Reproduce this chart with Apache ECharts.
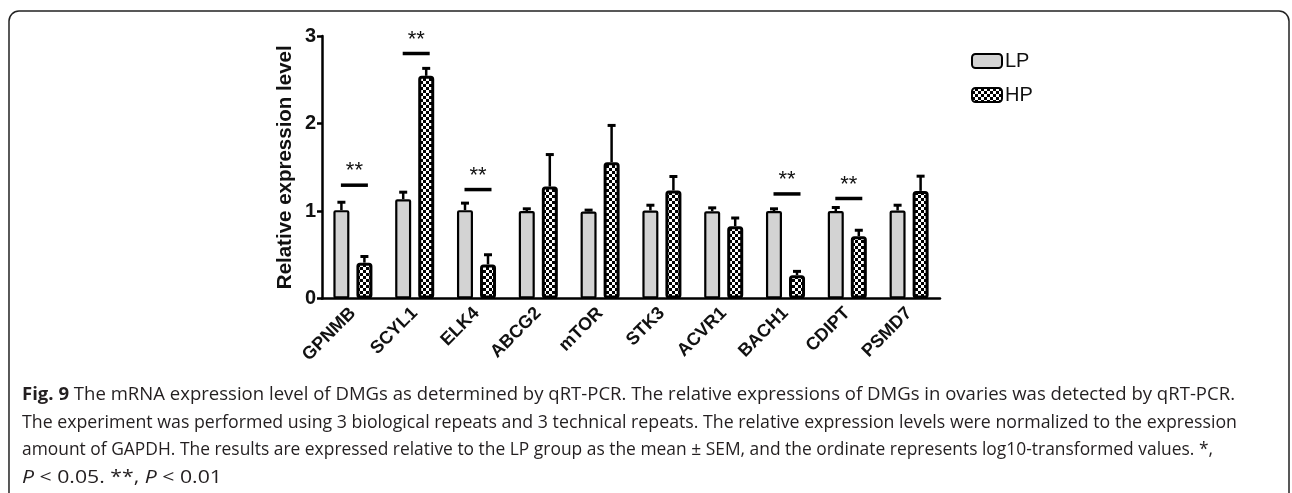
<!DOCTYPE html>
<html>
<head>
<meta charset="utf-8">
<script src="https://cdn.jsdelivr.net/npm/echarts@6/dist/echarts.min.js"></script>
<style>
html,body{margin:0;padding:0;background:#fff;}
#chart{width:1292px;height:493px;}
</style>
</head>
<body>
<div id="chart"></div>
<script>
// ---- data ----
const categories = ['GPNMB','SCYL1','ELK4','ABCG2','mTOR','STK3','ACVR1','BACH1','CDIPT','PSMD7'];
const lpMean = [1.01, 1.135, 1.01, 1.00, 0.995, 1.006, 0.998, 1.00, 1.00, 1.006];
const lpSem  = [0.09, 0.08, 0.08, 0.025, 0.015, 0.06, 0.038, 0.025, 0.04, 0.06];
const hpMean = [0.41, 2.545, 0.39, 1.28, 1.558, 1.234, 0.827, 0.267, 0.712, 1.23];
const hpSem  = [0.07, 0.085, 0.11, 0.365, 0.42, 0.16, 0.093, 0.043, 0.068, 0.168];
const sigCats = ['GPNMB','SCYL1','ELK4','BACH1','CDIPT'];
const sigY = [1.295, 2.80, 1.245, 1.195, 1.143];
const sigText = ['**','**','**','**','**'];
const yTicks = [0, 1, 2, 3];
const seriesNames = ['LP','HP'];
const captionLines = [
  [{b:'Fig. 9'}, {n:' The mRNA expression level of DMGs as determined by qRT-PCR. The relative expressions of DMGs in ovaries was detected by qRT-PCR.'}],
  [{n:'The experiment was performed using 3 biological repeats and 3 technical repeats. The relative expression levels were normalized to the expression'}],
  [{n:'amount of GAPDH. The results are expressed relative to the LP group as the mean \u00b1 SEM, and the ordinate represents log10-transformed values. *,'}],
  [{i:'P'}, {n:' < 0.05. **, '}, {i:'P'}, {n:' < 0.01'}]
];

// ---- pattern ----
const pat = document.createElement('canvas');
pat.width = 6; pat.height = 6;
const pc = pat.getContext('2d');
pc.fillStyle = '#000'; pc.fillRect(0,0,6,6);
pc.fillStyle = '#fff'; pc.fillRect(0,0,3,3); pc.fillRect(3,3,3,3);

const FONT = "'Liberation Sans', Arial, sans-serif";
const BAR_W = 16;
const OFFSET = 11.5;

function errRender(offset) {
  return function (params, api) {
    const c = api.coord([api.value(0), 0]);
    const x = c[0] + offset;
    const yTop = api.coord([api.value(0), api.value(1)])[1];
    const yErr = api.coord([api.value(0), api.value(2)])[1];
    return {
      type: 'group',
      children: [
        {type:'line', shape:{x1:x, y1:yTop, x2:x, y2:yErr}, style:{stroke:'#000', lineWidth:2.5}},
        {type:'line', shape:{x1:x-4, y1:yErr, x2:x+4, y2:yErr}, style:{stroke:'#000', lineWidth:3}}
      ]
    };
  };
}

const lpErrData = categories.map((c,i)=>[i, lpMean[i], lpMean[i]+lpSem[i]]);
const hpErrData = categories.map((c,i)=>[i, hpMean[i], hpMean[i]+hpSem[i]]);
const sigData = sigCats.map((c,i)=>[categories.indexOf(c), sigY[i], sigText[i]]);

// caption
const capFont = "'Open Sans', sans-serif";
const capSize = 18;
const capX = 22;
const capEnds = [1235, 1237, 1213, 222];
const capY = [395, 422.7, 450, 477.7];
const mctx = document.createElement('canvas').getContext('2d');
function measureLine(parts) {
  let w = 0;
  parts.forEach(p => {
    const t = p.b || p.i || p.n;
    mctx.font = (p.b ? 'bold ' : p.i ? 'italic ' : '') + capSize + 'px ' + capFont;
    w += mctx.measureText(t).width;
  });
  return w;
}
const capChildren = captionLines.map((parts, li) => {
  const txt = parts.map(p => p.b ? '{b|'+p.b+'}' : p.i ? '{i|'+p.i+'}' : '{n|'+p.n+'}').join('');
  const sx = (capEnds[li] - capX) / measureLine(parts);
  return {
    type: 'text', x: capX, y: capY[li], scaleX: sx,
    style: {
      text: txt, verticalAlign: 'middle', align: 'left',
      rich: {
        n: {fontFamily: capFont, fontSize: capSize, fill: '#231f20'},
        b: {fontFamily: capFont, fontSize: capSize, fontWeight: 'bold', fill: '#231f20'},
        i: {fontFamily: capFont, fontSize: capSize, fontStyle: 'italic', fill: '#231f20'}
      }
    }
  };
});

const chart = echarts.init(document.getElementById('chart'), null, {renderer:'canvas'});
chart.setOption({
  animation: false,
  backgroundColor: '#fff',
  grid: {left: 322, right: 352, top: 36, bottom: 194.5},
  legend: {
    orient: 'vertical', left: 966, top: 46, itemWidth: 30, itemHeight: 14, itemGap: 14,
    icon: 'roundRect',
    data: seriesNames,
    textStyle: {fontFamily: FONT, fontSize: 20, color: '#111', padding: [0,0,0,-2]}
  },
  xAxis: {
    type: 'category', data: categories,
    axisLine: {lineStyle: {color: '#000', width: 2.5}},
    axisTick: {alignWithLabel: true, length: 6, lineStyle: {color:'#000', width: 2.5}},
    axisLabel: {rotate: 45, fontFamily: FONT, fontWeight: 'bold', fontSize: 18, color: '#111', margin: 12, interval: 0}
  },
  yAxis: {
    type: 'value', min: yTicks[0], max: yTicks[yTicks.length-1], interval: 1,
    name: 'Relative expression level', nameLocation: 'middle', nameGap: 26,
    nameTextStyle: {fontFamily: FONT, fontWeight: 'bold', fontSize: 20.5, color: '#111'},
    splitLine: {show: false},
    axisLine: {show: true, lineStyle: {color:'#000', width: 2.5}},
    axisTick: {show: true, length: 5, lineStyle: {color:'#000', width: 2.5}},
    axisLabel: {fontFamily: FONT, fontWeight: 'bold', fontSize: 20, color: '#111', margin: 6}
  },
  series: [
    {name: seriesNames[0], type: 'bar', data: lpMean, barWidth: BAR_W, barGap: '44%', z: 3,
     itemStyle: {color: '#d3d3d3', borderColor: '#000', borderWidth: 2.2, borderRadius: 1}},
    {name: seriesNames[1], type: 'bar', data: hpMean, barWidth: BAR_W, z: 3,
     itemStyle: {color: {image: pat, repeat: 'repeat'}, borderColor: '#000', borderWidth: 3, borderRadius: 2}},
    {type: 'custom', data: lpErrData, renderItem: errRender(-OFFSET), z: 2, silent: true},
    {type: 'custom', data: hpErrData, renderItem: errRender(OFFSET), z: 2, silent: true},
    {type: 'custom', data: sigData, z: 4, silent: true,
     renderItem: function (params, api) {
       const p = api.coord([api.value(0), api.value(1)]);
       const x = p[0] + 1.5;
       return {type:'group', children:[
         {type:'line', shape:{x1:x-13.5, y1:p[1], x2:x+13.5, y2:p[1]}, style:{stroke:'#000', lineWidth:3.5}},
         {type:'text', x: x, y: p[1]-3, style:{text: sigData[params.dataIndex][2], align:'center', verticalAlign:'bottom', fontFamily: FONT, fontSize: 22, fill:'#111'}}
       ]};
     }}
  ],
  graphic: [
    {type:'rect', shape:{x:9, y:11, width:1280, height:600, r:10}, style:{fill:'none', stroke:'#222', lineWidth:1.5}, silent:true},
    {type:'group', children: capChildren}
  ]
});
</script>
</body>
</html>
